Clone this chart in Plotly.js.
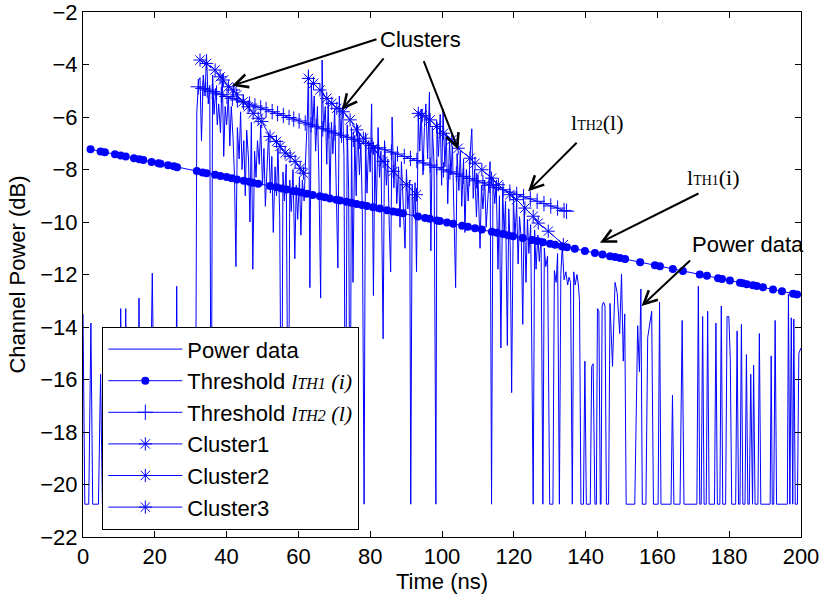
<!DOCTYPE html>
<html>
<head>
<meta charset="utf-8">
<script src="https://cdn.plot.ly/plotly-3.0.1.min.js"></script>
<style>html,body{margin:0;padding:0;background:#fff;}#chart{width:824px;height:600px;}</style>
</head>
<body>
<div id="chart"></div>
<script>
// Power data (time in ns, channel power in dB)
const powerTime = [0,0.5,1.6,2.2,2.7,4.3,4.9,5.4,10.1,10.5,10.9,11.5,11.9,12.3,15.2,15.6,16.0,18.4,19.3,20.1,25.7,26.1,26.5,31.3,
31.7,32.2,32.6,33.0,33.5,34.0,34.4,34.9,35.3,35.7,36.1,36.5,37.0,37.4,37.8,38.3,38.8,39.2,39.6,40.0,40.5,40.9,41.3,41.8,42.2,42.6,43.0,43.5,43.9,44.3,44.8,45.2,45.6,46.1,46.5,46.9,47.3,47.8,48.2,48.6,49.1,49.5,50.0,50.4,50.8,51.3,51.7,52.2,52.6,53.0,53.5,53.9,54.3,54.8,55.3,55.7,56.1,56.6,57.2,57.6,58.0,58.5,59.0,59.4,59.8,60.3,60.7,61.1,61.6,62.0,62.5,62.8,63.2,63.6,64.0,64.4,64.8,65.3,65.7,66.2,66.6,67.0,67.5,67.9,68.3,68.8,69.2,69.6,70.1,70.5,71.0,71.4,71.8,72.3,72.7,73.1,73.6,74.0,74.4,74.8,75.2,75.7,76.1,76.5,77.0,77.4,77.8,78.3,78.7,79.1,79.6,80.0,80.4,80.9,81.3,81.7,82.2,82.6,83.0,83.6,84.0,84.5,84.9,85.3,85.7,86.1,86.6,87.0,87.4,87.9,88.3,88.7,89.2,89.7,90.1,90.5,91.0,91.3,91.7,92.1,92.5,92.9,93.4,93.8,94.2,94.7,95.1,95.5,96.0,96.5,96.9,97.3,97.8,98.3,98.6,99.0,99.5,99.9,100.3,100.8,101.2,101.6,102.1,102.5,102.9,103.4,103.8,104.2,104.7,105.1,105.5,106.0,106.4,106.8,107.3,107.8,108.3,108.7,109.1,109.6,110.0,110.6,111.0,111.4,111.9,112.3,112.8,113.4,113.8,114.2,114.7,115.1,115.6,116.0,116.4,116.9,117.3,117.7,118.2,118.6,119.0,119.4,119.9,120.3,120.8,121.2,121.6,122.1,122.5,122.9,123.4,123.8,124.2,124.7,125.4,125.8,126.2,126.7,127.1,127.6,128.1,128.5,128.9,129.4,130.0,130.9,131.3,131.8,132.2,132.7,133.1,133.5,134.0,134.5,135.0,135.4,135.8,136.3,136.7,137.1,137.6,138.0,138.3,138.7,139.4,139.8,140.2,141.3,141.7,142.1,142.6,143.0,143.3,143.7,144.1,144.3,144.6,145.0,145.4,145.8,146.4,146.8,147.5,148.2,148.8,149.5,150.0,150.5,150.9,151.3,153.7,154.5,155.0,155.4,155.8,156.8,157.3,158.4,158.9,160.2,160.6,161.0,163.8,164.2,164.6,166.3,166.9,167.4,171.0,171.4,171.8,172.2,172.6,173.0,173.6,174.0,174.4,175.9,176.3,176.7,177.4,177.8,178.2,179.0,179.4,179.9,180.3,180.7,181.8,182.2,182.6,183.0,183.4,183.8,184.4,184.8,185.2,185.6,186.0,186.3,186.5,186.8,187.2,188.0,188.4,188.8,191.4,191.7,192.0,192.4,192.8,193.2,196.2,196.5,196.9,197.3,197.7,198.0,198.4,199.0,199.4,200];
const powerDb = [-13.5,-20.75,-20.75,-13.85,-20.75,-20.75,-15.8,-20.75,-20.75,-13.3,-20.75,-20.75,-13.3,-20.75,-20.75,-12.9,-20.75,-20.75,-11.95,-20.75,-20.75,-12.45,-20.75,-20.75,
-5.8,-4.6,-4.5,-6.9,-4.4,-5.2,-3.6,-5.5,-4.8,-20.75,-4.4,-5.9,-4.9,-6.3,-5.5,-6.6,-4.35,-7.5,-5.6,-6.3,-5.2,-7.1,-5.6,-6.8,-8.3,-11.7,-6.4,-7.6,-5.8,-8.0,-6.9,-9.0,-6.5,-7.6,-10.0,-6.2,-11.8,-7.3,-8.3,-6.9,-7.8,-6.3,-8.6,-7.2,-9.4,-7.7,-6.6,-8.9,-7.5,-10.4,-7.9,-9.0,-7.2,-9.8,-20.75,-8.1,-9.2,-7.8,-20.75,-8.4,-9.6,-8.0,-11.4,-8.6,-9.9,-8.3,-10.5,-8.4,-9.2,-7.6,-6.0,-4.2,-12.5,-4.7,-6.4,-5.2,-7.3,-5.6,-8.2,-12.9,-3.83,-6.5,-5.6,-7.8,-5.4,-9.0,-6.2,-7.4,-5.7,-8.5,-11.75,-5.2,-6.8,-5.6,-7.5,-20.75,-6.3,-8.8,-20.75,-6.4,-12.3,-6.7,-9.0,-6.3,-8.2,-7.0,-9.5,-20.75,-6.6,-8.9,-6.9,-8.1,-5.5,-12.8,-7.1,-9.6,-6.4,-8.3,-7.3,-14.45,-6.9,-8.6,-7.6,-10.1,-11.9,-6.0,-8.7,-7.4,-9.3,-7.9,-10.2,-7.7,-9.1,-11.0,-8.0,-9.5,-8.4,-20.75,-8.6,-9.8,-8.5,-11.9,-5.9,-7.3,-5.7,-8.2,-6.4,-5.5,-7.6,-5.05,-11.1,-6.4,-7.8,-20.75,-6.2,-7.5,-5.9,-8.6,-5.7,-7.9,-6.6,-9.3,-6.9,-8.2,-7.1,-9.7,-12.5,-7.4,-8.8,-7.3,-9.4,-7.6,-10.4,-8.0,-9.2,-7.5,-6.45,-9.1,-8.0,-9.8,-8.2,-11.0,-8.6,-9.5,-8.4,-10.2,-8.9,-7.7,-20.75,-8.3,-9.3,-8.5,-11.8,-9.0,-14.8,-8.7,-10.5,-9.2,-14.7,-9.5,-10.9,-16.5,-9.0,-10.6,-9.3,-11.6,-9.8,-10.7,-13.9,-9.4,-12.3,-9.9,-11.2,-10.1,-20.75,-10.3,-11.8,-10.5,-11.5,-10.6,-20.75,-11.0,-11.7,-11.3,-20.75,-20.75,-11.85,-12.3,-11.2,-20.75,-12.0,-10.9,-12.2,-11.9,-12.4,-12.1,-12.3,-20.75,-11.9,-12.4,-12.0,-12.4,-13.0,-20.75,-20.75,-15.3,-20.75,-20.75,-15.5,-15.4,-20.75,-20.75,-13.3,-13.4,-20.75,-20.75,-13.2,-13.05,-13.2,-20.75,-20.75,-13.1,-15.5,-12.3,-12.7,-14.25,-11.98,-15.3,-13.5,-20.75,-20.75,-13.95,-15.7,-12.55,-20.75,-20.75,-14.4,-13.4,-20.75,-20.75,-13.05,-20.75,-20.75,-16.6,-20.75,-20.75,-13.75,-20.75,-20.75,-12.45,-20.75,-20.75,-13.6,-20.75,-20.75,-13.4,-20.75,-20.75,-13.85,-20.75,-20.75,-13.2,-20.75,-20.75,-13.6,-13.6,-15.2,-20.75,-20.75,-14.15,-20.75,-20.75,-13.9,-20.75,-20.75,-15.05,-20.75,-20.75,-15.8,-20.75,-20.75,-15.45,-20.75,-20.75,-14.25,-20.75,-20.75,-15.1,-20.75,-20.75,-13.75,-20.75,-20.75,-12.75,-20.75,-13.65,-20.75,-13.7,-20.75,-20.75,-15.0,-14.8];

// Threshold lTH1(i)
const th1Time = [2.1,4.9,6.1,8.9,10.5,11.9,14.2,15.7,16.8,19.1,21.0,21.6,23.7,25.3,26.2,31.7,33.3,34.4,36.8,38.3,40.0,41.4,42.9,44.8,46.3,47.3,48.8,52.1,53.9,55.3,56.7,58.6,59.5,60.9,62.3,64.0,66.0,67.4,68.8,70.6,71.6,73.4,74.8,76.2,77.7,79.1,80.8,82.7,84.7,86.4,87.7,89.1,93.3,95.3,96.6,98.6,99.4,101.4,103.1,105.6,107.2,109.2,111.1,113.9,115.3,117.0,118.4,119.8,122.5,125.1,126.5,128.1,130.1,131.5,133.4,134.8,137.0,139.8,142.6,144.7,146.8,148.2,149.6,151.0,155.2,159.3,160.7,164.3,167.1,171.8,173.8,176.9,178.0,180.2,183.0,183.8,184.9,186.6,187.7,189.4,192.2,194.7,197.8,198.9];
const th1Db = [-7.23,-7.31,-7.34,-7.42,-7.47,-7.50,-7.57,-7.61,-7.64,-7.71,-7.76,-7.78,-7.84,-7.88,-7.91,-8.06,-8.11,-8.14,-8.20,-8.25,-8.29,-8.33,-8.38,-8.43,-8.47,-8.50,-8.54,-8.63,-8.68,-8.72,-8.76,-8.82,-8.84,-8.88,-8.92,-8.97,-9.02,-9.06,-9.10,-9.15,-9.18,-9.23,-9.27,-9.31,-9.35,-9.39,-9.44,-9.49,-9.55,-9.60,-9.63,-9.67,-9.79,-9.85,-9.88,-9.94,-9.96,-10.02,-10.07,-10.14,-10.18,-10.24,-10.29,-10.37,-10.41,-10.46,-10.50,-10.54,-10.61,-10.69,-10.72,-10.77,-10.83,-10.87,-10.92,-10.96,-11.02,-11.10,-11.18,-11.24,-11.30,-11.33,-11.37,-11.41,-11.53,-11.65,-11.69,-11.79,-11.87,-12.00,-12.05,-12.14,-12.17,-12.23,-12.31,-12.33,-12.37,-12.41,-12.44,-12.49,-12.57,-12.64,-12.73,-12.76];

// Threshold lTH2(l)
const th2Time = [32.1,33.4,34.6,36.0,37.2,38.5,40.1,41.6,43.0,44.7,46.4,47.9,49.5,51.0,52.7,54.2,55.8,57.4,58.7,60.2,61.9,63.5,65.0,66.8,68.5,70.2,72.0,73.6,75.3,77.0,78.8,80.5,82.3,84.0,85.9,87.6,89.5,91.2,93.0,94.9,96.7,98.5,100.4,102.2,104.0,105.9,107.7,109.6,111.4,113.3,115.2,117.0,118.9,120.8,122.7,124.6,126.5,128.4,130.3,132.2,134.0,134.7];
const th2Db = [-4.85,-4.91,-4.97,-5.03,-5.09,-5.15,-5.22,-5.29,-5.35,-5.43,-5.51,-5.58,-5.65,-5.72,-5.80,-5.87,-5.94,-6.02,-6.08,-6.15,-6.23,-6.30,-6.37,-6.45,-6.53,-6.61,-6.69,-6.77,-6.85,-6.92,-7.01,-7.09,-7.17,-7.25,-7.34,-7.41,-7.50,-7.58,-7.66,-7.75,-7.83,-7.92,-8.01,-8.09,-8.17,-8.26,-8.34,-8.43,-8.51,-8.60,-8.69,-8.77,-8.86,-8.95,-9.04,-9.12,-9.21,-9.30,-9.39,-9.47,-9.56,-9.59];

// Clusters
const c1Time = [32.6,34.4,36.8,38.2,39.1,40.5,41.9,42.8,44.6,46.0,47.4,48.8,49.8,52.1,53.9,54.9,56.3,57.7,59.1,60.5,61.4];
const c1Db = [-3.83,-3.96,-4.21,-4.47,-4.59,-4.85,-4.97,-5.16,-5.42,-5.61,-5.86,-6.05,-6.17,-6.74,-6.93,-7.12,-7.37,-7.50,-7.69,-7.95,-8.14];
const c2Time = [62.8,64.2,66.0,67.9,69.3,70.7,72.5,74.4,76.2,78.1,80.9,83.6,86.4,90.1,92.9];
const c2Db = [-4.53,-4.72,-4.97,-5.29,-5.48,-5.67,-5.80,-6.11,-6.49,-6.81,-7.19,-7.69,-8.07,-8.58,-8.96];
const c3Time = [93.4,94.5,96.7,98.5,100.4,102.7,104.5,107.8,109.2,111.1,113.8,115.7,118.9,120.8,123.1,125.4,126.8,129.6,133.8];
const c3Db = [-5.86,-5.95,-6.11,-6.36,-6.62,-6.87,-7.19,-7.57,-7.76,-8.01,-8.33,-8.58,-8.96,-9.15,-9.47,-9.78,-10.04,-10.35,-10.86];

// Tick labels
const xTicks = [0,20,40,60,80,100,120,140,160,180,200];
const yTicks = [-22,-20,-18,-16,-14,-12,-10,-8,-6,-4,-2];

const blue = '#0000ff';
const serif = 'Liberation Serif';
const sans = 'Liberation Sans, Arial, sans-serif';
const FS = 22;

const traces = [
  {x: powerTime, y: powerDb, mode: 'lines', name: 'Power data', legendgroup: 'g1',
   line: {color: blue, width: 1}},
  {x: th1Time, y: th1Db, mode: 'lines+markers', legendgroup: 'g2',
   name: 'Threshold <i style="font-family:Liberation Serif">l<span style="font-size:16px">TH1</span> (i)</i>',
   line: {color: blue, width: 1}, marker: {symbol: 'circle', size: 8, color: blue}},
  {x: th2Time, y: th2Db, mode: 'lines+markers', legendgroup: 'g3',
   name: 'Threshold <i style="font-family:Liberation Serif">l<span style="font-size:16px">TH2</span> (l)</i>',
   line: {color: blue, width: 1}, marker: {symbol: 'cross-thin-open', size: 11, color: blue, line: {color: blue, width: 1}}},
  {x: c1Time, y: c1Db, mode: 'lines+markers', name: 'Cluster1', legendgroup: 'g4',
   line: {color: blue, width: 1}, marker: {symbol: 'asterisk-open', size: 11, color: blue, line: {color: blue, width: 1}}},
  {x: c2Time, y: c2Db, mode: 'lines+markers', name: 'Cluster2', legendgroup: 'g5',
   line: {color: blue, width: 1}, marker: {symbol: 'asterisk-open', size: 11, color: blue, line: {color: blue, width: 1}}},
  {x: c3Time, y: c3Db, mode: 'lines+markers', name: 'Cluster3', legendgroup: 'g6',
   line: {color: blue, width: 1}, marker: {symbol: 'asterisk-open', size: 11, color: blue, line: {color: blue, width: 1}}}
];

function px2t(px) { return (px - 83) / 3.59; }
function py2v(py) { return -2 - (py - 12) / 26.25; }
function arrow(x, y, ax, ay) {
  return {x: x, y: y, xref: 'x', yref: 'y', ax: ax, ay: ay, text: '', showarrow: true,
          arrowhead: 5, arrowsize: 1.3, arrowwidth: 2, arrowcolor: '#000', standoff: 0, startstandoff: 0};
}

const annotations = [
  {x: px2t(420), y: py2v(39), xref: 'x', yref: 'y', text: 'Clusters', showarrow: false,
   font: {family: sans, size: FS, color: '#000'}},
  arrow(41.5, -4.81, 146, -47),
  arrow(72.1, -5.73, 43, -53),
  arrow(104.5, -7.24, -35, -90),
  arrow(124.0, -8.83, 50, -50),
  arrow(144.0, -10.79, 100, -50),
  arrow(155.6, -13.2, 50, -47),
  {x: px2t(597), y: py2v(122), xref: 'x', yref: 'y', showarrow: false,
   text: 'l<span style="font-size:14px">TH2</span>(l)', font: {family: serif, size: 22, color: '#000'}},
  {x: px2t(713), y: py2v(177), xref: 'x', yref: 'y', showarrow: false,
   text: 'l<span style="font-size:14px">TH1</span>(i)', font: {family: serif, size: 22, color: '#000'}},
  {x: px2t(748), y: py2v(244), xref: 'x', yref: 'y', showarrow: false,
   text: 'Power data', font: {family: sans, size: FS, color: '#000'}}
];

const axisCommon = {
  showgrid: false, zeroline: false, showline: true, linecolor: '#000', linewidth: 1,
  mirror: 'ticks', ticks: 'inside', ticklen: 6, tickwidth: 1, tickcolor: '#000',
  tickmode: 'array', ticklabeloverflow: 'allow', tickfont: {family: sans, size: FS, color: '#000'}
};

const layout = {
  width: 824, height: 600,
  margin: {l: 83, r: 23, t: 12, b: 63},
  paper_bgcolor: '#fff', plot_bgcolor: '#fff',
  font: {family: sans, size: FS, color: '#000'},
  xaxis: Object.assign({}, axisCommon, {range: [0, 200], tickvals: xTicks, ticktext: xTicks.map(String),
    title: {text: 'Time (ns)', font: {family: sans, size: FS, color: '#000'}, standoff: 2}}),
  yaxis: Object.assign({}, axisCommon, {range: [-22, -2], tickvals: yTicks,
    ticktext: yTicks.map(v => '\u2212' + Math.abs(v)),
    title: {text: 'Channel Power (dB)', font: {family: sans, size: FS, color: '#000'}, standoff: 8}}),
  showlegend: true,
  legend: {x: 0.0265, y: 0.40, xanchor: 'left', yanchor: 'top', bgcolor: '#fff',
    bordercolor: '#000', borderwidth: 1.3, font: {family: sans, size: FS, color: '#000'},
    tracegroupgap: 1, itemwidth: 74, traceorder: 'normal'},
  annotations: annotations
};

Plotly.newPlot('chart', traces, layout, {displayModeBar: false, staticPlot: true});
</script>
</body>
</html>
